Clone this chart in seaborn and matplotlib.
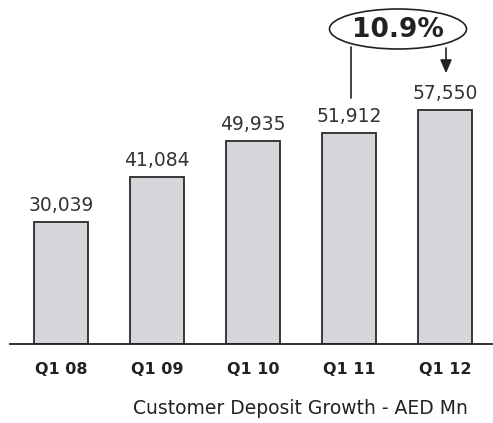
import matplotlib
matplotlib.use("Agg")
import matplotlib.pyplot as plt
from matplotlib.patches import Ellipse
import seaborn as sns
import pandas as pd

categories = ["Q1 08", "Q1 09", "Q1 10", "Q1 11", "Q1 12"]
deposits = [30039, 41084, 49935, 51912, 57550]
value_labels = ["30,039", "41,084", "49,935", "51,912", "57,550"]
growth_label = "10.9%"
title = "Customer Deposit Growth - AED Mn"

sns.set_style("white")
df = pd.DataFrame({"quarter": categories, "deposit": deposits})

fig = plt.figure(figsize=(4.93, 4.23), dpi=100)
ax = fig.add_axes([10/493, (423-344)/423, 483/493, 344/423])
sns.barplot(data=df, x="quarter", y="deposit", ax=ax, color="#d6d6da",
            edgecolor="#2a2a2a", linewidth=1.3, width=0.56, saturation=1)
ax.set_xlim(-0.53, 4.5)
ax.set_ylim(0, 84500)
ax.set_xlabel("")
ax.set_ylabel("")
ax.set_yticks([])
for s in ["top", "right", "left"]:
    ax.spines[s].set_visible(False)
ax.spines["bottom"].set_color("#222222")
ax.spines["bottom"].set_linewidth(1.3)
ax.tick_params(axis="x", length=0, pad=13)
for lbl in ax.get_xticklabels():
    lbl.set_fontfamily("DejaVu Sans")
    lbl.set_fontweight("bold")
    lbl.set_fontsize(11.5)
    lbl.set_color("#222222")

for i, (v, t) in enumerate(zip(deposits, value_labels)):
    ax.annotate(t, (i, v), xytext=(0, 5), textcoords="offset points",
                ha="center", va="bottom", fontsize=13.5,
                family="DejaVu Sans", color="#333333")

# growth annotation
fig.text(398/493, 1 - 30/423, growth_label, ha="center", va="center",
         fontsize=19, fontweight="bold", family="DejaVu Sans", color="#222222")
ell = Ellipse((398/493, 1 - 29/423), 137/493, 40/423, transform=fig.transFigure,
              fill=False, edgecolor="#222222", linewidth=1.2)
fig.add_artist(ell)
fig.add_artist(plt.Line2D([351/493, 351/493], [1 - 47/423, 1 - 98/423],
                          transform=fig.transFigure, color="#222222", linewidth=1.2))
fig.add_artist(plt.Line2D([446/493, 446/493], [1 - 48/423, 1 - 68/423],
                          transform=fig.transFigure, color="#222222", linewidth=1.2))
ax.annotate("", xy=(446/493, 1 - 76/423), xytext=(446/493, 1 - 64/423),
            xycoords="figure fraction", textcoords="figure fraction",
            arrowprops=dict(arrowstyle="-|>,head_width=0.35,head_length=0.8",
                            color="#222222", lw=1.2))

fig.text(300/493, 1 - 408/423, title, ha="center", va="center",
         fontsize=13.5, family="DejaVu Sans", color="#222222")

fig.savefig("out.png", dpi=100)
